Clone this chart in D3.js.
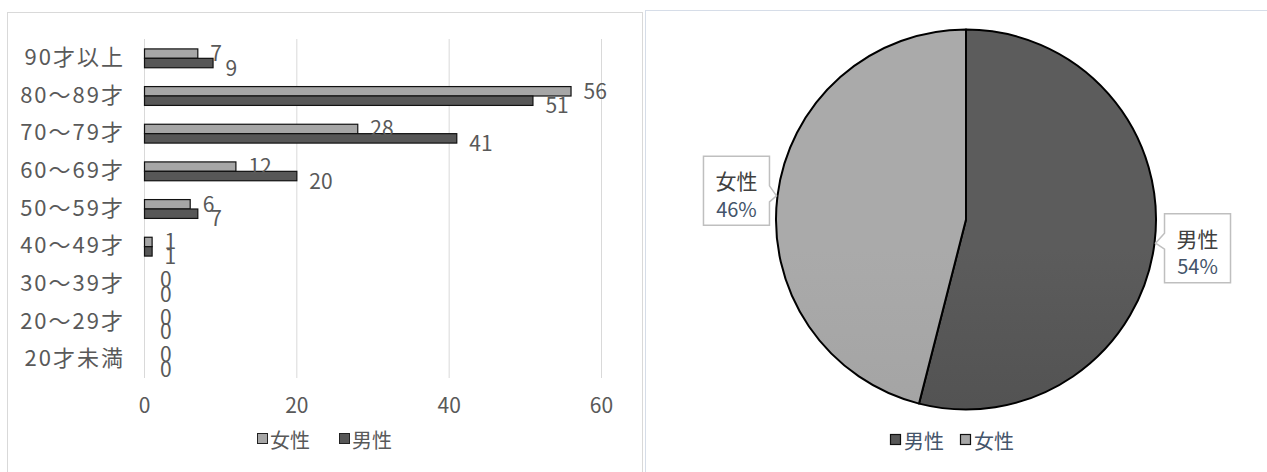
<!DOCTYPE html>
<html lang="ja">
<head>
<meta charset="utf-8">
<script src="https://cdn.jsdelivr.net/npm/d3@7"></script>
<style>
  html, body { margin: 0; padding: 0; background: #fff; }
  svg { display: block; font-family: "Noto Sans CJK JP", "Noto Sans", sans-serif; }
</style>
</head>
<body>
<svg id="chart" width="1267" height="472"></svg>
<script>
// Age groups, top to bottom
const ageGroups = ["90才以上", "80～89才", "70～79才", "60～69才", "50～59才", "40～49才", "30～39才", "20～29才", "20才未満"];
// Counts per age group
const femaleCounts = [7, 56, 28, 12, 6, 1, 0, 0, 0];
const maleCounts   = [9, 51, 41, 20, 7, 1, 0, 0, 0];
// Series names
const seriesNames = ["女性", "男性"];
// Value-axis ticks
const xTicks = [0, 20, 40, 60];
// Totals for the pie (male first, clockwise from 12 o'clock)
const pieNames = ["男性", "女性"];
const pieTotals = [d3.sum(maleCounts), d3.sum(femaleCounts)];

const FEMALE = "#a6a6a6", MALE = "#575757";
const TEXT = "#595959", PIE_TEXT = "#44546a";
const FONT = "\"Noto Sans CJK JP\", sans-serif";

const svg = d3.select("#chart");

// ---------- panel frames ----------
svg.append("rect").attr("x", 7.5).attr("y", 12.5).attr("width", 635).attr("height", 480)
  .attr("fill", "#fff").attr("stroke", "#d9d9d9");
svg.append("rect").attr("x", 645.5).attr("y", 10.5).attr("width", 640).attr("height", 480)
  .attr("fill", "#fff").attr("stroke", "#d6dde8");

// ---------- horizontal bar chart ----------
const x = d3.scaleLinear().domain([0, 60]).range([144, 601]);
const y = d3.scaleBand().domain(ageGroups).range([39, 378]).paddingInner(0.5).paddingOuter(0.25);
const ySub = d3.scaleBand().domain(seriesNames).range([0, y.bandwidth()]);
const plotTop = 39, plotBottom = 378;

const bars = svg.append("g");

// grid lines
bars.append("g").selectAll("line").data(xTicks).join("line")
  .attr("x1", d => x(d) + 0.5).attr("x2", d => x(d) + 0.5)
  .attr("y1", plotTop).attr("y2", plotBottom)
  .attr("stroke", "#d9d9d9").attr("stroke-width", 1);

// value axis labels
const xAxis = d3.axisBottom(x).tickValues(xTicks).tickSize(0).tickPadding(0);
bars.append("g").attr("transform", "translate(0,398)").call(xAxis)
  .call(g => g.select(".domain").remove())
  .selectAll("text").attr("fill", TEXT).attr("font-size", 21).attr("font-family", FONT);

// category labels
const yAxis = d3.axisLeft(y).tickSize(0).tickPadding(0);
bars.append("g").attr("transform", "translate(125,0)").call(yAxis)
  .call(g => g.select(".domain").remove())
  .selectAll("text").attr("fill", TEXT).attr("font-size", 22)
  .attr("letter-spacing", 2).attr("font-family", FONT);

const rows = ageGroups.map((g, i) => ({ group: g, values: [femaleCounts[i], maleCounts[i]] }));
const rowG = bars.append("g").selectAll("g").data(rows).join("g")
  .attr("transform", d => `translate(0,${y(d.group)})`);

rowG.selectAll("rect").data(d => d.values.map((v, j) => ({ v, s: seriesNames[j] }))).join("rect")
  .filter(d => d.v > 0)
  .attr("x", x(0) + 0.5)
  .attr("y", d => ySub(d.s) + 0.5)
  .attr("width", d => x(d.v) - x(0))
  .attr("height", ySub.bandwidth())
  .attr("fill", d => d.s === "女性" ? FEMALE : MALE)
  .attr("stroke", "#111").attr("stroke-width", 1.2);

// data labels
rowG.selectAll("text.val").data(d => d.values.map((v, j) => ({ v, s: seriesNames[j] }))).join("text")
  .attr("class", "val")
  .attr("x", d => x(d.v) + (d.v === 0 ? 16 : 13))
  .attr("y", d => ySub(d.s) + ySub.bandwidth() / 2 + (d.s === "女性" ? -1 : 4))
  .attr("dominant-baseline", "central")
  .attr("font-size", 21).attr("fill", TEXT)
  .text(d => d.v);

// legend
const barLegend = svg.append("g").attr("transform", "translate(257,439)");
[["女性", FEMALE, 0], ["男性", MALE, 82]].forEach(([name, color, dx]) => {
  barLegend.append("rect").attr("x", dx + 0.5).attr("y", -5.5).attr("width", 10).attr("height", 10)
    .attr("fill", color).attr("stroke", "#222").attr("stroke-width", 1);
  barLegend.append("text").attr("x", dx + 13).attr("y", 0).attr("dominant-baseline", "central")
    .attr("font-size", 20).attr("fill", TEXT).text(name);
});

// ---------- pie chart ----------
const cx = 966, cy = 219.5, r = 190;
const defs = svg.append("defs");
function grad(id, top, bottom) {
  const g = defs.append("linearGradient").attr("id", id)
    .attr("gradientUnits", "userSpaceOnUse")
    .attr("x1", 0).attr("y1", cy - r).attr("x2", 0).attr("y2", cy + r);
  g.append("stop").attr("offset", 0).attr("stop-color", top);
  g.append("stop").attr("offset", 1).attr("stop-color", bottom);
}
grad("gMale", "#5c5c5c", "#464646");
grad("gFemale", "#aaaaaa", "#9c9c9c");

const pie = d3.pie().sort(null).value(d => d.v);
const arcs = pie(pieNames.map((n, i) => ({ n, v: pieTotals[i] })));
const arc = d3.arc().innerRadius(0).outerRadius(r);
const pieG = svg.append("g").attr("transform", `translate(${cx},${cy})`);
pieG.selectAll("path").data(arcs).join("path")
  .attr("d", arc)
  .attr("fill", d => d.data.n === "男性" ? "url(#gMale)" : "url(#gFemale)")
  .attr("stroke", "#000").attr("stroke-width", 2).attr("stroke-linejoin", "round");

// callout labels
const total = d3.sum(pieTotals);
const boxW = 66, boxH = 69;
arcs.forEach(a => {
  const mid = (a.startAngle + a.endAngle) / 2;
  const ax = cx + r * Math.sin(mid), ay = cy - r * Math.cos(mid);
  const right = Math.sin(mid) > 0;
  const bx = right ? ax + 10 : ax - 8 - boxW;
  const by = ay - boxH / 2 + (right ? 5 : -5);
  // box with a wedge pointing at the slice edge
  const py = ay - by;
  const w0 = Math.max(4, py - 10), w1 = Math.min(boxH - 4, py + 6);
  let p;
  if (right) {
    p = `M${bx},${by} H${bx + boxW} V${by + boxH} H${bx} V${by + w1} L${ax + 1},${ay} L${bx},${by + w0} Z`;
  } else {
    p = `M${bx},${by} H${bx + boxW} V${by + w0} L${ax - 1},${ay} L${bx + boxW},${by + w1} V${by + boxH} H${bx} Z`;
  }
  svg.append("path").attr("d", p).attr("fill", "#fff").attr("stroke", "#bfbfbf").attr("stroke-width", 1.5);
  const tx = bx + boxW / 2;
  svg.append("text").attr("x", tx).attr("y", by + 24).attr("text-anchor", "middle")
    .attr("dominant-baseline", "central").attr("font-size", 21).attr("fill", "#404040")
    .text(a.data.n);
  svg.append("text").attr("x", tx).attr("y", by + 52).attr("text-anchor", "middle")
    .attr("dominant-baseline", "central").attr("font-size", 20).attr("fill", PIE_TEXT)
    .text(Math.round(a.data.v / total * 100) + "%");
});

// pie legend
const pieLegend = svg.append("g").attr("transform", "translate(890,440)");
[["男性", MALE, 0], ["女性", FEMALE, 70]].forEach(([name, color, dx]) => {
  pieLegend.append("rect").attr("x", dx + 0.5).attr("y", -5.5).attr("width", 10).attr("height", 10)
    .attr("fill", color).attr("stroke", "#111").attr("stroke-width", 1.2);
  pieLegend.append("text").attr("x", dx + 14).attr("y", 0).attr("dominant-baseline", "central")
    .attr("font-size", 20).attr("fill", PIE_TEXT).text(name);
});
</script>
</body>
</html>
